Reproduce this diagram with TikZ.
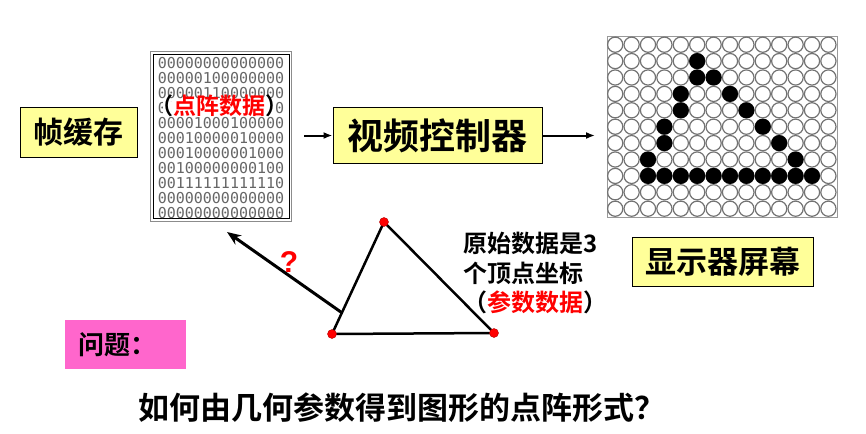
\documentclass[tikz,border=0pt]{standalone}
\usepackage{fontspec}
\setmainfont{Liberation Sans}
\newfontfamily\cjk{Noto Sans CJK SC}[BoldFont={Noto Sans CJK SC Bold}]
\newfontfamily\bitfont{DejaVu Sans Mono}
\usetikzlibrary{arrows.meta,calc}
\definecolor{boxyellow}{RGB}{255,255,153}
\definecolor{qpink}{RGB}{255,102,204}
\def\fsz#1{\fontsize{#1}{#1}\selectfont}
\tikzset{
	ybox/.style={draw=black, line width=1pt, fill=boxyellow, inner sep=0pt},
	bitrow/.style={font=\bitfont\fsz{15}, text=black!60, inner sep=0pt},
	pix/.style={draw=black!55, line width=1.2pt, fill=white},
	arr/.style={line width=2pt, -{Latex[length=9pt,width=7pt]}}
}

\begin{document}
\begin{tikzpicture}[x=1pt, y=-1pt]
			%%%%% START %%%%%
			\useasboundingbox (0,0) rectangle (866,433);
			
			\node[ybox, minimum width=117pt, minimum height=49pt, font=\cjk\bfseries\fsz{30}] (buf) at (78.5,132.5) {帧缓存};
			
			% frame buffer contents
			\node[draw=black!45, line width=1pt, minimum width=141pt, minimum height=169pt, inner sep=0pt] (bits) at (221,136.5) {};
			\draw[line width=0.8pt] ($(bits.south west)+(3,-3)$) rectangle ($(bits.north east)+(-3,3)$);
			\foreach \row [count=\i from 0] in {00000000000000,00000100000000,00000110000000,00001001000000,00001000100000,00010000010000,00010000001000,00100000000100,00111111111110,00000000000000,00000000000000}
				\node[bitrow] (row\i) at (221,63+15*\i) {\row};
			\node[fill=white, inner sep=0pt, text height=12pt, text depth=2pt, font=\cjk\bfseries\fsz{23}] (dots) at (219,109) {\makebox[112pt]{（\textcolor{red}{点阵数据}）}};
			
			\node[ybox, minimum width=209pt, minimum height=55pt, font=\cjk\bfseries\fsz{36}] (vc) at (437.5,135.5) {视频控制器};
			
			% screen
			\node[draw=black!40, line width=1pt, minimum width=230pt, minimum height=180.4pt, inner sep=0pt] (scr) at (722.5,127.2) {};
			\foreach \r in {0,...,10}
				\foreach \c in {0,...,13}
					\draw[pix] ($(scr.north west)+(8.2+16.4*\c,8.2+16.4*\r)$) circle (7.6);
			\foreach \c/\r in {5/1,5/2,6/2,4/3,7/3,4/4,8/4,3/5,9/5,3/6,10/6,2/7,11/7,2/8,3/8,4/8,5/8,6/8,7/8,8/8,9/8,10/8,11/8,12/8}
				\fill ($(scr.north west)+(8.2+16.4*\c,8.2+16.4*\r)$) circle (8);
			
			\draw[arr, shorten <=12pt] (bits.east |- vc.west) -- (vc.west);
			\draw[arr, shorten >=12pt] (vc.east) -- (vc.east -| scr.west);
			
			\node[ybox, minimum width=181pt, minimum height=49pt, font=\cjk\bfseries\fsz{31}] (disp) at (722.5,261.5) {显示器屏幕};
			
			% triangle
			\coordinate (tA) at (384,222);
			\coordinate (tB) at (332,334);
			\coordinate (tC) at (494,333);
			\draw[line width=2.5pt, line join=round] (tA) -- (tB) -- (tC) -- cycle;
			\foreach \p in {tA,tB,tC}
				\draw[fill=red, draw=red!70!black, line width=0.4pt] (\p) circle (4.5);
			
			\coordinate (qtail) at ($(tB)!0.19!(tA)$);
			\coordinate (qhead) at (227,232);
			\draw[line width=3pt, -{Stealth[length=14pt,width=11pt]}] (qtail) -- (qhead);
			\node[text=red, font=\bfseries\fsz{30}] (qm) at (289,262) {?};
			
			\node[anchor=west, align=left, inner sep=0pt, font=\cjk\bfseries\fontsize{24}{29.5}\selectfont] (raw) at (463,273) {原始数据是3\\个顶点坐标\\（\textcolor{red}{参数数据}）};
			
			\node[anchor=west, fill=qpink, minimum height=49pt, text width=95pt, inner xsep=13pt, inner ysep=0pt, align=left, font=\cjk\bfseries\fsz{26}] (q) at (65,344.5) {问题：};
			
			\node[font=\cjk\bfseries\fsz{31}] (ask) at (402,408) {如何由几何参数得到图形的点阵形式？};
			
			%%%%% END %%%%%
\end{tikzpicture}
\end{document}
